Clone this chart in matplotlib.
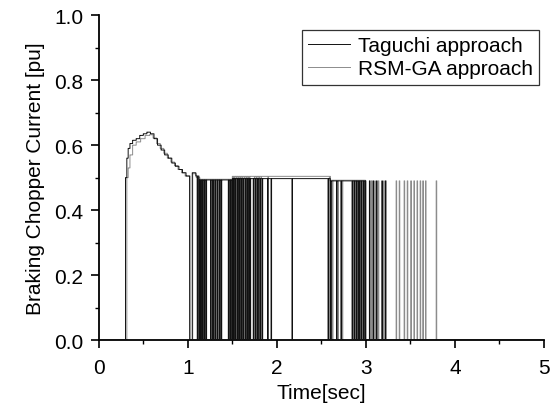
"""
Braking chopper current, Taguchi vs RSM-GA
"""

import numpy as np
import matplotlib
matplotlib.use('Agg')
import matplotlib.pyplot as plt
from matplotlib.ticker import MultipleLocator

# piecewise constant current level, held from each time to the next (s, pu)
tag_level_t = [0.00, 0.300, 0.315, 0.330, 0.350, 0.380, 0.420, 0.460, 0.500, 0.540, 0.580,
               0.620, 0.660, 0.700, 0.740, 0.780, 0.820, 0.860, 0.900, 0.940, 0.980,
               1.020, 1.050, 1.090, 1.130, 1.500, 2.600, 3.000]
tag_level_i = [0.00, 0.500, 0.560, 0.590, 0.605, 0.615, 0.620, 0.630, 0.635, 0.640, 0.635,
               0.620, 0.600, 0.585, 0.570, 0.560, 0.545, 0.535, 0.525, 0.515, 0.505,
               0.000, 0.515, 0.505, 0.493, 0.497, 0.490, 0.000]

rsm_level_t = [0.00, 0.315, 0.330, 0.350, 0.380, 0.420, 0.470, 0.520, 0.570, 0.610,
               0.650, 0.690, 0.730, 0.770, 0.810, 0.850, 0.890, 0.930, 0.970,
               1.025, 1.055, 1.095, 1.135, 1.500, 2.600, 2.995]
rsm_level_i = [0.00, 0.500, 0.530, 0.570, 0.600, 0.610, 0.620, 0.630, 0.632, 0.622,
               0.605, 0.590, 0.575, 0.560, 0.548, 0.537, 0.525, 0.515, 0.505,
               0.000, 0.512, 0.500, 0.495, 0.504, 0.492, 0.000]

# chopper switching: drops to zero while on, short pulses while off (s)
tag_drops = [1.105, 1.125, 1.145, 1.165, 1.185, 1.205,
             1.255, 1.280, 1.305, 1.330, 1.355, 1.375,
             1.455, 1.475, 1.495, 1.515, 1.535, 1.560, 1.580, 1.600, 1.620, 1.645,
             1.665, 1.685, 1.700,
             1.735, 1.760, 1.785, 1.810, 1.835,
             1.895, 1.935, 2.170,
             2.575, 2.605, 2.670, 2.720, 2.845, 2.870, 2.895, 2.920, 2.945, 2.970, 2.990]
tag_pulses = [3.040, 3.080, 3.120, 3.180, 3.220]

rsm_drops = [1.115, 1.135, 1.155, 1.175, 1.195,
             1.268, 1.293, 1.318, 1.343, 1.365,
             1.465, 1.485, 1.505, 1.525, 1.548, 1.570, 1.590, 1.610, 1.633, 1.655,
             1.675, 1.692,
             1.748, 1.772, 1.798, 1.822, 1.900,
             2.590, 2.625, 2.685, 2.735, 2.858, 2.882, 2.908, 2.932, 2.958, 2.982]
rsm_pulses = [3.060, 3.100, 3.140, 3.200, 3.340, 3.375, 3.430, 3.465,
              3.505, 3.540, 3.575, 3.610, 3.640, 3.670, 3.790]
tag_pulse_level = 0.490
rsm_pulse_level = 0.490
switch_width = 0.006  # s

x_ticks = [0, 1, 2, 3, 4, 5]
y_ticks = [0.0, 0.2, 0.4, 0.6, 0.8, 1.0]


def build_signal(level_t, level_i, drops, pulses, pulse_level):
    t = np.arange(0.0, 5.0, 0.001)
    idx = np.searchsorted(np.array(level_t), t, side='right') - 1
    y = np.array(level_i)[idx]
    for d in drops:
        y[(t >= d) & (t < d + switch_width)] = 0.0
    for p in pulses:
        y[(t >= p) & (t < p + switch_width)] = pulse_level
    return t, y


plt.rcParams['font.family'] = ['Liberation Sans', 'DejaVu Sans']
fs = 15

fig = plt.figure(figsize=(5.55, 4.06), dpi=100)
ax = fig.add_axes([0.178, 0.160, 0.802, 0.800])

t_rsm, y_rsm = build_signal(rsm_level_t, rsm_level_i, rsm_drops, rsm_pulses, rsm_pulse_level)
t_tag, y_tag = build_signal(tag_level_t, tag_level_i, tag_drops, tag_pulses, tag_pulse_level)
ax.plot(t_rsm, y_rsm, color='#8c8c8c', lw=0.7, drawstyle='steps-post', label='RSM-GA approach', zorder=2)
ax.plot(t_tag, y_tag, color='#111111', lw=0.7, drawstyle='steps-post', label='Taguchi approach', zorder=3)

ax.set_xlim(0, 5)
ax.set_ylim(0, 1.0)
ax.set_xticks(x_ticks)
ax.set_yticks(y_ticks)
ax.set_yticklabels([f'{v:.1f}' for v in y_ticks])
ax.xaxis.set_minor_locator(MultipleLocator(0.5))
ax.yaxis.set_minor_locator(MultipleLocator(0.1))
ax.tick_params(which='major', direction='out', length=6, width=1.2, labelsize=fs, pad=5)
ax.tick_params(axis='x', which='major', pad=7)
ax.tick_params(which='minor', direction='out', length=3, width=1.0)
for side in ['top', 'right']:
    ax.spines[side].set_visible(False)
for side in ['left', 'bottom']:
    ax.spines[side].set_linewidth(1.3)

ax.set_xlabel('Time[sec]', fontsize=fs, labelpad=4)
ax.set_ylabel('Braking Chopper Current [pu]', fontsize=fs, labelpad=7)

handles, labels = ax.get_legend_handles_labels()
leg = ax.legend(handles[::-1], labels[::-1], loc='upper right', bbox_to_anchor=(0.99, 0.955),
                fontsize=fs, frameon=True, fancybox=False, edgecolor='black',
                handlelength=2.0, handletextpad=0.4, borderpad=0.3, labelspacing=0.2,
                borderaxespad=0.0)
leg.get_frame().set_linewidth(0.9)

fig.savefig('out.png', dpi=100)
